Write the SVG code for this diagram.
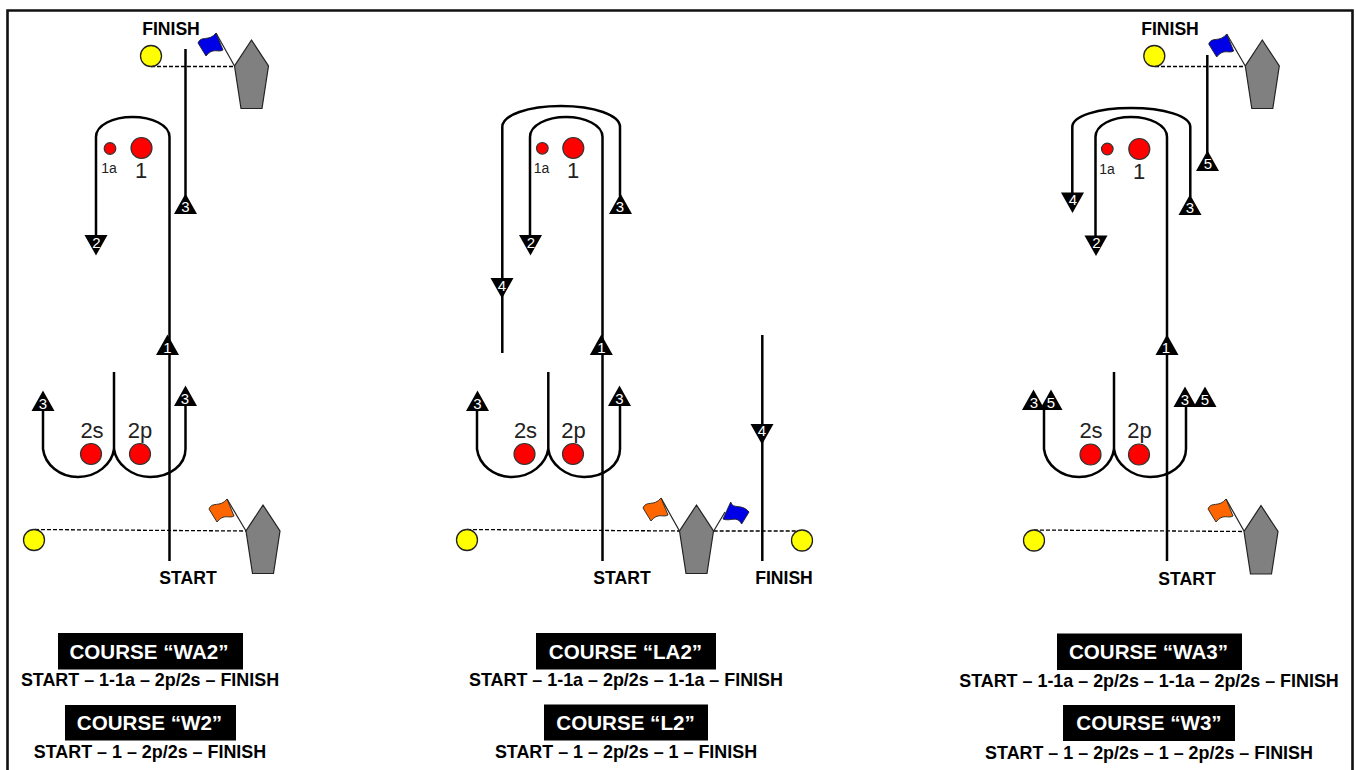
<svg xmlns="http://www.w3.org/2000/svg" xmlns:xlink="http://www.w3.org/1999/xlink" width="1356" height="770" viewBox="0 0 1356 770">
<style>
text{font-family:"Liberation Sans",Arial,sans-serif;text-anchor:middle}
.rt{fill:none;stroke:#000;stroke-width:2.5}
.dash{fill:none;stroke:#000;stroke-width:1.3;stroke-dasharray:4 2}
.pole{fill:none;stroke:#222;stroke-width:1.2}
.buoy{fill:#ff0;stroke:#222;stroke-width:1.3}
.mark{fill:#f00;stroke:#333;stroke-width:1.2}
.boat{fill:#808080;stroke:#222;stroke-width:1.2}
.bl{fill:#0000e6;stroke:#222;stroke-width:.9}
.or{fill:#ff6600;stroke:#222;stroke-width:.9}
.tri{fill:#000}
.tn{fill:#fff;font-size:15px}
.ml{fill:#222;font-size:22px}
.ms{fill:#222;font-size:14px}
.sf{fill:#000;font-size:17.600px;font-weight:bold}
.bar{fill:#000}
.bt{fill:#fff;font-size:20.600px;font-weight:bold}
.sub{fill:#000;font-size:17.900px;font-weight:bold}
</style>
<defs>
<polygon id="tu" points="0,-20.5 11.5,0 -11.5,0"/>
<polygon id="td" points="0,20.5 11.5,0 -11.5,0"/>
<path id="hull" d="M17 -26 L34 0 L27.5 42.5 L6.5 42.5 L0 0Z"/>
<path id="flag" d="M0 0 L7 17 C2 20 -3 14 -10 23 L-18 10 C-15 2 -7 9 0 0Z"/>
</defs>
<rect width="1356" height="770" fill="#fff"/>
<path d="M7.5 770 V10.5 H1352.5 V770" fill="none" stroke="#111" stroke-width="2.6"/>
<g id="connectors">
<path class="dash" d="M151 66.5 H234.5"/>
<path class="dash" d="M35 529.5 L246 531"/>
<path class="pole" d="M234.5 66 L216 33"/>
<path class="pole" d="M246 531 L227 499"/>
<path class="rt" d="M169.5 561 V137 C169.5 125 152 117 132.500 117 C113 117 96 125 96 137 V238"/>
<path class="rt" d="M185.500 49 V196"/>
<path class="rt" d="M43 408 V449 C45 465 60 477 78 477 C97 477 112 464 114 449 C116 464 132 477 150 477 C170 477 185.500 465 185.500 449 V404"/>
<path class="rt" d="M114 372 V449"/>

<path class="dash" d="M467 529.5 L679.500 531"/>
<path class="dash" d="M713.700 531 H802"/>
<path class="pole" d="M679.500 531 L661 498"/>
<path class="pole" d="M713.700 531 L725 512"/>
<path class="rt" d="M602.500 561 V137 C602.500 125 585 117 566 117 C547 117 530 125 530 137 V238"/>
<path class="rt" d="M502.300 353 V127 C502.300 115 528 106 561 106 C594 106 620 115 620 127 V196"/>
<path class="rt" d="M477 408 V449 C479 465 494 477 512 477 C531 477 546 464 548.300 449 C550 464 566 477 584 477 C604 477 620 465 620 449 V404"/>
<path class="rt" d="M548.300 372 V449"/>
<path class="rt" d="M762.300 335 V561"/>

<path class="dash" d="M1155 66.500 H1245.300"/>
<path class="dash" d="M1034 530 L1244 531.500"/>
<path class="pole" d="M1245.300 66 L1226.700 34"/>
<path class="pole" d="M1244 531 L1226 499"/>
<path class="rt" d="M1167 561 V137 C1167 125 1150 117 1131 117 C1112 117 1095.500 125 1095.500 137 V238"/>
<path class="rt" d="M1072.300 195 V127 C1072.300 116 1098 108 1131 108 C1164 108 1190.300 116 1190.300 127 V197"/>
<path class="rt" d="M1207.300 55 V153"/>
<path class="rt" d="M1044 408 V449 C1046 465 1061 477 1079 477 C1098 477 1112 464 1114 449 C1116 464 1132 477 1150 477 C1170 477 1186 465 1186 449 V405"/>
<path class="rt" d="M1114 372 V449"/>
</g>

<g id="p1-finish-buoy"><circle class="buoy" cx="151" cy="56" r="10.500"/></g>
<g id="p1-finish-boat"><use href="#hull" class="boat" x="234.500" y="66"/><use href="#flag" class="bl" x="216" y="33"/></g>
<g id="p1-finish-label"><text class="sf" x="171" y="34.500">FINISH</text></g>
<g id="p1-start-buoy"><circle class="buoy" cx="34" cy="540" r="10.500"/></g>
<g id="p1-start-boat"><use href="#hull" class="boat" x="246" y="531"/><use href="#flag" class="or" x="227" y="499"/></g>
<g id="p1-start-label"><text class="sf" x="188" y="584">START</text></g>
<g id="p1-m1a"><circle class="mark" cx="110" cy="148.500" r="5.800"/><text class="ms" x="109" y="172.500">1a</text></g>
<g id="p1-m1"><circle class="mark" cx="141.500" cy="148" r="10.500"/><text class="ml" x="141" y="178">1</text></g>
<g id="p1-m2s"><circle class="mark" cx="91" cy="454" r="10.500"/><text class="ml" x="92" y="437.500">2s</text></g>
<g id="p1-m2p"><circle class="mark" cx="140" cy="454" r="10.500"/><text class="ml" x="140" y="437.500">2p</text></g>
<g id="p1-t1"><use href="#tu" class="tri" x="167.500" y="355"/><text class="tn" x="167.500" y="353">1</text></g>
<g id="p1-t2"><use href="#td" class="tri" x="96" y="235"/><text class="tn" x="96.500" y="247.500">2</text></g>
<g id="p1-t3a"><use href="#tu" class="tri" x="185.500" y="214"/><text class="tn" x="185.500" y="212">3</text></g>
<g id="p1-t3b"><use href="#tu" class="tri" x="185.500" y="406"/><text class="tn" x="185" y="403.500">3</text></g>
<g id="p1-t3c"><use href="#tu" class="tri" x="43" y="411"/><text class="tn" x="43" y="409">3</text></g>

<g id="p2-buoy-l"><circle class="buoy" cx="467" cy="540" r="10.500"/></g>
<g id="p2-buoy-r"><circle class="buoy" cx="802" cy="540.500" r="10.500"/></g>
<g id="p2-boat"><use href="#hull" class="boat" x="679.500" y="531"/><use href="#flag" class="or" x="661" y="498"/>
<path class="bl" d="M730.700 502 C733 510 742 503 749 512 L741.700 524 C737 515 730 522 723 519Z"/></g>
<g id="p2-start-label"><text class="sf" x="622" y="584">START</text></g>
<g id="p2-finish-label"><text class="sf" x="784" y="584">FINISH</text></g>
<g id="p2-m1a"><circle class="mark" cx="542.300" cy="148.300" r="5.800"/><text class="ms" x="541.500" y="172.500">1a</text></g>
<g id="p2-m1"><circle class="mark" cx="573.300" cy="148" r="10.500"/><text class="ml" x="573" y="178">1</text></g>
<g id="p2-m2s"><circle class="mark" cx="524.500" cy="454" r="10.500"/><text class="ml" x="525.500" y="437.500">2s</text></g>
<g id="p2-m2p"><circle class="mark" cx="573" cy="454" r="10.500"/><text class="ml" x="573.500" y="437.500">2p</text></g>
<g id="p2-t1"><use href="#tu" class="tri" x="601.300" y="355"/><text class="tn" x="601.300" y="353">1</text></g>
<g id="p2-t2"><use href="#td" class="tri" x="530.500" y="235"/><text class="tn" x="531" y="247.500">2</text></g>
<g id="p2-t3a"><use href="#tu" class="tri" x="620.500" y="214"/><text class="tn" x="620" y="212">3</text></g>
<g id="p2-t4a"><use href="#td" class="tri" x="502" y="278"/><text class="tn" x="502" y="290.500">4</text></g>
<g id="p2-t3b"><use href="#tu" class="tri" x="619.500" y="406"/><text class="tn" x="619.500" y="403.500">3</text></g>
<g id="p2-t3c"><use href="#tu" class="tri" x="477.500" y="411"/><text class="tn" x="477.500" y="409">3</text></g>
<g id="p2-t4b"><use href="#td" class="tri" x="762" y="424"/><text class="tn" x="762" y="436">4</text></g>

<g id="p3-finish-buoy"><circle class="buoy" cx="1154.300" cy="56" r="10.500"/></g>
<g id="p3-finish-boat"><use href="#hull" class="boat" x="1245.300" y="66"/><use href="#flag" class="bl" x="1226.700" y="34"/></g>
<g id="p3-finish-label"><text class="sf" x="1170" y="34.500">FINISH</text></g>
<g id="p3-start-buoy"><circle class="buoy" cx="1034" cy="540.500" r="10.500"/></g>
<g id="p3-start-boat"><use href="#hull" class="boat" x="1244" y="531.500"/><use href="#flag" class="or" x="1226" y="499"/></g>
<g id="p3-start-label"><text class="sf" x="1187" y="584.500">START</text></g>
<g id="p3-m1a"><circle class="mark" cx="1107.300" cy="149" r="5.800"/><text class="ms" x="1107" y="173.500">1a</text></g>
<g id="p3-m1"><circle class="mark" cx="1139.300" cy="149" r="10.500"/><text class="ml" x="1139" y="179">1</text></g>
<g id="p3-m2s"><circle class="mark" cx="1090.500" cy="454.500" r="10.500"/><text class="ml" x="1091" y="438">2s</text></g>
<g id="p3-m2p"><circle class="mark" cx="1139" cy="454.500" r="10.500"/><text class="ml" x="1139.500" y="438">2p</text></g>
<g id="p3-t1"><use href="#tu" class="tri" x="1167" y="355"/><text class="tn" x="1166" y="353">1</text></g>
<g id="p3-t2"><use href="#td" class="tri" x="1096" y="235.500"/><text class="tn" x="1096.500" y="248">2</text></g>
<g id="p3-t3a"><use href="#tu" class="tri" x="1190" y="215"/><text class="tn" x="1190" y="212.500">3</text></g>
<g id="p3-t4"><use href="#td" class="tri" x="1072.500" y="192.500"/><text class="tn" x="1073" y="204.500">4</text></g>
<g id="p3-t5a"><use href="#tu" class="tri" x="1207.500" y="171"/><text class="tn" x="1208" y="168.500">5</text></g>
<g id="p3-t3b"><use href="#tu" class="tri" x="1033.500" y="410"/><text class="tn" x="1034" y="407.500">3</text></g>
<g id="p3-t5b"><use href="#tu" class="tri" x="1051" y="410"/><text class="tn" x="1051" y="407.500">5</text></g>
<g id="p3-t3c"><use href="#tu" class="tri" x="1185" y="407"/><text class="tn" x="1185" y="404.500">3</text></g>
<g id="p3-t5c"><use href="#tu" class="tri" x="1205" y="407"/><text class="tn" x="1205" y="404.500">5</text></g>

<g id="c-wa2"><rect class="bar" x="58" y="633" width="185" height="36.500"/><text class="bt" x="149" y="658.500">COURSE “WA2”</text></g>
<g id="c-wa2-sub"><text class="sub" x="150" y="686">START – 1-1a – 2p/2s – FINISH</text></g>
<g id="c-w2"><rect class="bar" x="65" y="705" width="171" height="35.500"/><text class="bt" x="149.500" y="729.500">COURSE “W2”</text></g>
<g id="c-w2-sub"><text class="sub" x="150" y="758">START – 1 – 2p/2s – FINISH</text></g>
<g id="c-la2"><rect class="bar" x="536" y="633" width="180" height="36.500"/><text class="bt" x="625.500" y="658.500">COURSE “LA2”</text></g>
<g id="c-la2-sub"><text class="sub" x="626" y="686">START – 1-1a – 2p/2s – 1-1a – FINISH</text></g>
<g id="c-l2"><rect class="bar" x="544" y="704.500" width="164" height="36"/><text class="bt" x="625.500" y="729.500">COURSE “L2”</text></g>
<g id="c-l2-sub"><text class="sub" x="626" y="758">START – 1 – 2p/2s – 1 – FINISH</text></g>
<g id="c-wa3"><rect class="bar" x="1057" y="633.500" width="185" height="36.500"/><text class="bt" x="1148.500" y="659">COURSE “WA3”</text></g>
<g id="c-wa3-sub"><text class="sub" x="1149" y="686.500">START – 1-1a – 2p/2s – 1-1a – 2p/2s – FINISH</text></g>
<g id="c-w3"><rect class="bar" x="1063" y="705" width="172" height="36"/><text class="bt" x="1149" y="730">COURSE “W3”</text></g>
<g id="c-w3-sub"><text class="sub" x="1149" y="758.500">START – 1 – 2p/2s – 1 – 2p/2s – FINISH</text></g>
</svg>
